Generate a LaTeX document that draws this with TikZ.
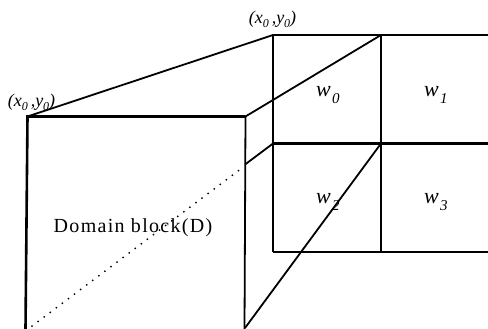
\documentclass[tikz,border=0pt]{standalone}
\usepackage{fontspec}
\setmainfont{Liberation Serif}
\newcommand{\subz}[1]{\raisebox{-4pt}{\fontsize{12}{12}\selectfont #1}}
\tikzset{
  thick line/.style={line width=2.6pt,black},
  thin line/.style={line width=1.8pt,black},
  dot line/.style={line width=2pt,black,line cap=round,dash pattern=on 0pt off 7.6pt},
  wlabel/.style={inner sep=0pt,font=\fontsize{22}{22}\selectfont\itshape},
  wsub/.style={inner sep=0pt,font=\fontsize{15}{15}\selectfont\itshape},
  xylabel/.style={inner sep=0pt,font=\fontsize{18}{18}\selectfont\itshape},
}
\begin{document}
\begin{tikzpicture}[x=1pt,y=-1pt]
\useasboundingbox (0,0) rectangle (488,329);
% grid corners
\coordinate (g00) at (273,35);
\coordinate (g10) at (381,35);
\coordinate (g20) at (488,35);
\coordinate (g01) at (273,143.5);
\coordinate (g11) at (381,143.5);
\coordinate (g21) at (488,143.5);
\coordinate (g02) at (273,252);
\coordinate (g12) at (381,252);
\coordinate (g22) at (488,252);
% domain block corners
\coordinate (dtl) at (27.5,116.5);
\coordinate (dtr) at (245.5,116.5);
\coordinate (dbl) at (25.5,329);
\coordinate (dbr) at (244.5,329);
\coordinate (dml) at (245,164.5);
\coordinate (dmd) at (242,168);
\coordinate (dst) at (32,326);
\coordinate (dbc) at (245,328);
% grid
\draw[thick line] (g00) -- (g20);
\draw[thick line] (g01) -- (g21);
\draw[thick line] (g02) -- (g22);
\draw[thick line] (g00) -- (g02);
\draw[thick line] (g10) -- (g12);
% domain block
\draw[thick line] (dbl) -- (dtl) -- (dtr);
\draw[thin line] (dtr) -- (dbr);
% projection lines
\draw[thin line] (dtl) -- (g00);
\draw[thin line] (dtr) -- (g10);
\draw[thin line] (dml) -- (g01);
\draw[thin line] (dbc) -- (g11);
\draw[dot line] (dst) -- (dmd);
% labels
\node[xylabel] (xy1) at (31.5,102) {(x\subz{0}\,,y\subz{0})};
\node[xylabel] (xy2) at (272.5,19) {(x\subz{0}\,,y\subz{0})};
\node[wlabel,anchor=base west] (w0) at (316,96) {w};
\node[wsub,anchor=base west] (s0) at (332,103) {0};
\node[wlabel,anchor=base west] (w1) at (424,96) {w};
\node[wsub,anchor=base west] (s1) at (440,103) {1};
\node[wlabel,anchor=base west] (w2) at (316,204) {w};
\node[wsub,anchor=base west] (s2) at (332,211) {2};
\node[wlabel,anchor=base west] (w3) at (424,204) {w};
\node[wsub,anchor=base west] (s3) at (440,211) {3};
\node[inner sep=0pt,font=\fontsize{20}{20}\selectfont,anchor=base] (dom) at (133,233) {\addfontfeatures{LetterSpace=6.5}Domain block(D)};
\end{tikzpicture}
\end{document}
